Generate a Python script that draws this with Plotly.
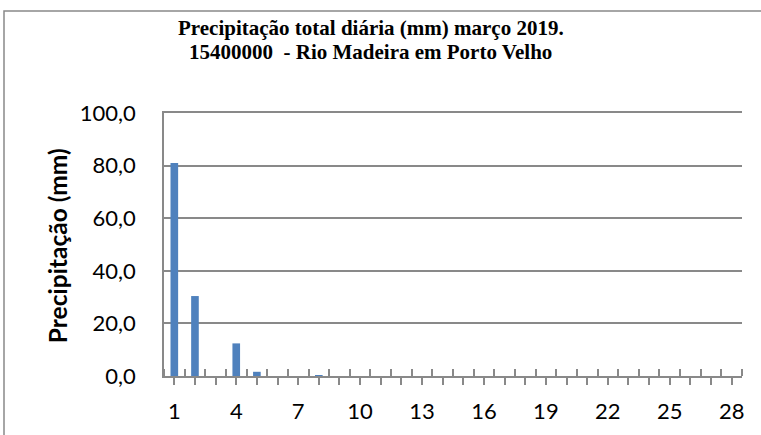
import plotly.graph_objects as go

days = list(range(1, 29))
precip = [81.0, 30.4, 0.0, 12.4, 1.6, 0.0, 0.0, 0.2, 0.0, 0.0,
          0.0, 0.0, 0.0, 0.0, 0.0, 0.0, 0.0, 0.0, 0.0, 0.0,
          0.0, 0.0, 0.0, 0.0, 0.0, 0.0, 0.0, 0.0]
x_labels = [str(d) if (d - 1) % 3 == 0 else "" for d in days]
y_ticks = [0, 20, 40, 60, 80, 100]
y_labels = ["0,0", "20,0", "40,0", "60,0", "80,0", "100,0"]
title_line1 = "Precipitação total diária (mm) março 2019."
title_line2 = "15400000  - Rio Madeira em Porto Velho"
y_title = "Precipitação (mm)"

GRAY = "#898989"
boundaries = [d - 0.5 for d in days] + [days[-1] + 0.5]

fig = go.Figure()
fig.add_trace(go.Bar(x=days, y=precip, marker=dict(color="#4F81BD", line=dict(width=0))))

fig.update_layout(
    width=761, height=435,
    margin=dict(l=164, r=19, t=113, b=59),
    paper_bgcolor="white", plot_bgcolor="white",
    bargap=0.63, showlegend=False,
    font=dict(family="Lato", size=22, color="black"),
)
fig.update_xaxes(
    range=[0.5, 28.5], tickvals=days, ticktext=x_labels,
    ticks="outside", ticklen=7, tickwidth=1.5, tickcolor=GRAY,
    minor=dict(tickvals=boundaries, ticks="inside", ticklen=7, tickwidth=1.5, tickcolor=GRAY),
    showline=True, mirror=True, linecolor=GRAY, linewidth=1.5, showgrid=False, zeroline=False,
    ticklabelstandoff=8, automargin=False,
    tickfont=dict(family="Lato", size=22, color="black"),
)
fig.update_yaxes(
    range=[0, 100], tickvals=y_ticks, ticktext=y_labels,
    ticks="", showline=True, linecolor=GRAY, linewidth=1.5,
    showgrid=True, gridcolor=GRAY, gridwidth=1.5, zeroline=False,
    ticklabelstandoff=22, automargin=False,
    tickfont=dict(family="Lato", size=22, color="black"),
)
fig.add_annotation(text=y_title, textangle=-90, xref="paper", yref="paper",
                   x=-0.185, y=0.494, xanchor="center", yanchor="middle",
                   showarrow=False, font=dict(family="Lato", size=24.5, color="black", weight="bold"))
fig.add_annotation(text="<b>" + title_line1 + "</b>", xref="paper", yref="paper",
                   x=(370.5 - 164) / 578, y=(376 - 28) / 263, xanchor="center", yanchor="middle",
                   showarrow=False, font=dict(family="Liberation Serif", size=21, color="black"))
fig.add_annotation(text="<b>" + title_line2 + "</b>", xref="paper", yref="paper",
                   x=(370.5 - 164) / 578, y=(376 - 52) / 263, xanchor="center", yanchor="middle",
                   showarrow=False, font=dict(family="Liberation Serif", size=21, color="black"))
fig.add_shape(type="rect", xref="paper", yref="paper",
              x0=(4 - 164) / 578, x1=(770 - 164) / 578,
              y0=(376 - 445) / 263, y1=(376 - 11) / 263,
              line=dict(color=GRAY, width=1.5), layer="below")
fig.write_html("out.html", config={"displayModeBar": False},
               post_script="document.body.style.margin='0';document.body.style.overflow='hidden';")
